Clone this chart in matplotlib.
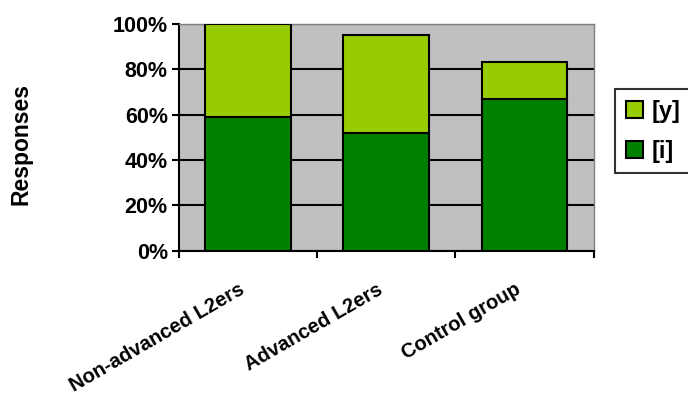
import matplotlib
matplotlib.use("Agg")
import matplotlib.pyplot as plt
import numpy as np

plt.rcParams['font.family'] = ['Liberation Sans', 'DejaVu Sans']
plt.rcParams['font.weight'] = 'bold'

categories = ["Non-advanced L2ers", "Advanced L2ers", "Control group"]
i_vals = [59, 52, 66.7]
y_vals = [41, 43, 16.6]
yticks = [0, 20, 40, 60, 80, 100]

fig = plt.figure(figsize=(6.88, 3.97), dpi=100)
ax = fig.add_axes([0.260, 0.368, 0.603, 0.572])
ax.set_facecolor('#c0c0c0')

x = np.arange(len(categories))
ax.bar(x, i_vals, width=0.62, color='#008000', edgecolor='black', linewidth=1.5, label='[i]', zorder=3)
ax.bar(x, y_vals, bottom=i_vals, width=0.62, color='#99cc00', edgecolor='black', linewidth=1.5, label='[y]', zorder=3)

ax.set_xlim(-0.5, len(categories) - 0.5)
ax.set_ylim(0, 100)
ax.set_yticks(yticks)
ax.set_yticklabels([f"{v}%" for v in yticks], fontsize=15.5, fontweight='bold')
ax.yaxis.grid(True, color='black', linewidth=1.5, zorder=0)
ax.set_axisbelow(True)

ax.set_xticks(np.arange(len(categories) + 1) - 0.5)
ax.set_xticklabels([])
ax.tick_params(axis='both', direction='out', length=5, width=1.5, color='black', pad=3)
for c, xi in zip(categories, x):
    ax.annotate(c, xy=(xi, 0), xycoords=('data', 'axes fraction'),
                xytext=(-7, -21), textcoords='offset points',
                rotation=30, rotation_mode='anchor', ha='right', va='top',
                fontsize=14.5, fontweight='bold')

for s in ['left', 'bottom']:
    ax.spines[s].set_color('black')
    ax.spines[s].set_linewidth(1.5)
for s in ['top', 'right']:
    ax.spines[s].set_color('#808080')
    ax.spines[s].set_linewidth(1)

fig.text(21 / 688, 1 - 144 / 397, "Responses", rotation=90, ha='center', va='center',
         fontsize=16.5, fontweight='bold')

h, l = ax.get_legend_handles_labels()
leg = fig.legend(h[::-1], l[::-1], loc='upper left', bbox_to_anchor=(615 / 688, 1 - 89 / 397),
                 frameon=True, fancybox=False, edgecolor='black',
                 prop={'weight': 'bold', 'size': 17}, handlelength=0.72, handleheight=0.72,
                 handletextpad=0.38, borderpad=0.45, labelspacing=0.72, borderaxespad=0)
leg.get_frame().set_linewidth(1.5)
for p in leg.get_patches():
    p.set_linewidth(1.5)

fig.savefig("out.png", dpi=100)
